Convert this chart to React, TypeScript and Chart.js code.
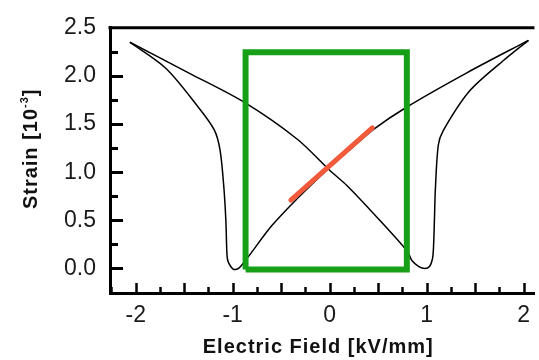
import React, { useEffect, useRef } from 'react';
import { Chart, registerables } from 'chart.js';

Chart.register(...registerables);

// Branch traced while the field rises from -2 to +2 kV/mm
const risingFieldX = [-2.06, -1.45, -0.87, -0.33, 0.0, 0.18, 0.49, 0.8, 0.85, 0.92, 0.98, 1.03, 1.06, 1.07, 1.08, 1.09, 1.12, 1.17, 1.44, 1.78, 2.05];
const risingStrainY = [2.35, 2.03, 1.72, 1.34, 1.02, 0.86, 0.53, 0.18, 0.08, 0.02, 0.0, 0.02, 0.1, 0.2, 0.49, 0.82, 1.28, 1.43, 1.84, 2.15, 2.37];

// Branch traced while the field falls from +2 to -2 kV/mm
const fallingFieldX = [2.05, 1.41, 0.8, 0.46, 0.18, 0.0, -0.33, -0.6, -0.87, -0.94, -0.99, -1.02, -1.05, -1.06, -1.07, -1.09, -1.13, -1.19, -1.35, -1.69, -2.06];
const fallingStrainY = [2.37, 2.03, 1.68, 1.45, 1.21, 1.05, 0.73, 0.44, 0.08, 0.0, -0.01, 0.02, 0.08, 0.17, 0.49, 0.83, 1.23, 1.44, 1.67, 2.08, 2.35];

// Highlight box (green) and linear fit segment (red)
const boxFieldX = [-0.867, 0.796, 0.796, -0.867, -0.867];
const boxStrainY = [-0.01, -0.01, 2.245, 2.245, -0.01];
const fitFieldX = [-0.4, 0.44];
const fitStrainY = [0.71, 1.46];

// Axes
const xTickValues = [-2, -1, 0, 1, 2];
const yTickValues = [0, 0.5, 1, 1.5, 2, 2.5];
const xMinorStep = 0.25;
const yMinorStep = 0.25;
const xLimits = [-2.265, 2.112];
const yLimits = [-0.255, 2.5];
const xTitle = 'Electric Field [kV/mm]';
const yTitleMain = 'Strain [10';
const yTitleSup = '-3';
const yTitleEnd = ']';

const FONT = '"Liberation Sans", Arial, Helvetica, sans-serif';

const pts = (xs: number[], ys: number[]) => xs.map((x, i) => ({ x, y: ys[i] }));

const framePlugin = {
  id: 'frameDecor',
  afterDraw(chart: any) {
    const { ctx, chartArea: a, scales } = chart;
    const xs = scales.x;
    const ys = scales.y;
    ctx.save();
    ctx.strokeStyle = '#000';
    ctx.lineCap = 'butt';
    // top frame line
    ctx.lineWidth = 3;
    ctx.beginPath();
    ctx.moveTo(a.left - 1.5, a.top);
    ctx.lineTo(a.right, a.top);
    ctx.stroke();
    // inward y ticks
    const yMaxStep = Math.round((yLimits[1] - yMinorStep) / yMinorStep);
    for (let i = 0; i <= yMaxStep; i++) {
      const v = i * yMinorStep;
      const major = i % 2 === 0;
      const py = Math.round(ys.getPixelForValue(v)) + 0.5;
      ctx.lineWidth = 3;
      ctx.beginPath();
      ctx.moveTo(a.left, py);
      ctx.lineTo(a.left + (major ? 13 : 8), py);
      ctx.stroke();
    }
    // inward x ticks
    const first = Math.ceil(xLimits[0] / xMinorStep);
    const last = Math.floor(xLimits[1] / xMinorStep);
    for (let i = first; i <= last; i++) {
      const v = i * xMinorStep;
      const major = Math.abs(i) % 2 === 0;
      const px = Math.round(xs.getPixelForValue(v)) + 0.5;
      ctx.lineWidth = 2.5;
      ctx.beginPath();
      ctx.moveTo(px, a.bottom);
      ctx.lineTo(px, a.bottom - (major ? 10 : 6));
      ctx.stroke();
    }
    // axis titles
    ctx.fillStyle = '#111';
    try {
      ctx.letterSpacing = '1px';
    } catch (e) {
      /* ignore */
    }
    ctx.font = `bold 20px ${FONT}`;
    ctx.textAlign = 'center';
    ctx.textBaseline = 'alphabetic';
    ctx.fillText(xTitle, (a.left + a.right) / 2 - 4, chart.height - 7);

    ctx.translate(37, a.top + 121);
    ctx.rotate(-Math.PI / 2);
    ctx.textAlign = 'left';
    ctx.font = `bold 20px ${FONT}`;
    const w1 = ctx.measureText(yTitleMain).width;
    const w3 = ctx.measureText(yTitleEnd).width;
    ctx.font = `bold 11px ${FONT}`;
    const w2 = ctx.measureText(yTitleSup).width;
    const start = -(w1 + w2 + w3) / 2;
    ctx.font = `bold 20px ${FONT}`;
    ctx.fillText(yTitleMain, start, 0);
    ctx.font = `bold 11px ${FONT}`;
    ctx.fillText(yTitleSup, start + w1, -9);
    ctx.font = `bold 20px ${FONT}`;
    ctx.fillText(yTitleEnd, start + w1 + w2, 0);
    ctx.restore();
  },
};

export default function App() {
  const canvasRef = useRef<HTMLCanvasElement | null>(null);

  useEffect(() => {
    const canvas = canvasRef.current;
    if (!canvas) return;
    const tickFont = { family: FONT, size: 23 };
    const chart = new Chart(canvas, {
      type: 'scatter',
      data: {
        datasets: [
          {
            data: pts(fitFieldX, fitStrainY),
            showLine: true,
            borderColor: '#f25a3c',
            borderWidth: 5,
            borderCapStyle: 'round',
            pointRadius: 0,
            order: 0,
          },
          {
            data: pts(boxFieldX, boxStrainY),
            showLine: true,
            borderColor: '#17a017',
            borderWidth: 6,
            borderJoinStyle: 'miter',
            pointRadius: 0,
            order: 1,
          },
          {
            data: pts(risingFieldX, risingStrainY),
            showLine: true,
            borderColor: '#000',
            borderWidth: 1.5,
            tension: 0.3,
            pointRadius: 0,
            order: 2,
          },
          {
            data: pts(fallingFieldX, fallingStrainY),
            showLine: true,
            borderColor: '#000',
            borderWidth: 1.5,
            tension: 0.3,
            pointRadius: 0,
            order: 3,
          },
        ],
      } as any,
      options: {
        animation: false,
        responsive: false,
        devicePixelRatio: 1,
        layout: { padding: { top: 22, right: 0, left: 0, bottom: 0 } },
        plugins: { legend: { display: false }, tooltip: { enabled: false } },
        scales: {
          x: {
            type: 'linear',
            min: xLimits[0],
            max: xLimits[1],
            afterFit: (s: any) => {
              s.height = 67;
            },
            afterBuildTicks: (s: any) => {
              s.ticks = xTickValues.map((v) => ({ value: v }));
            },
            grid: { display: false, drawTicks: false },
            border: { display: true, color: '#000', width: 3 },
            ticks: {
              padding: 9,
              color: '#1a1a1a',
              font: tickFont,
              maxRotation: 0,
              autoSkip: false,
              callback: (v: any) => String(v),
            },
          },
          y: {
            type: 'linear',
            min: yLimits[0],
            max: yLimits[1],
            afterFit: (s: any) => {
              s.width = 110;
            },
            afterBuildTicks: (s: any) => {
              s.ticks = yTickValues.map((v) => ({ value: v }));
            },
            grid: { display: false, drawTicks: false },
            border: { display: true, color: '#000', width: 3 },
            ticks: {
              padding: 14,
              color: '#1a1a1a',
              font: tickFont,
              autoSkip: false,
              callback: (v: any) => Number(v).toFixed(1),
            },
          },
        },
      } as any,
      plugins: [framePlugin],
    });
    return () => chart.destroy();
  }, []);

  return (
    <div style={{ position: 'fixed', left: 0, top: 0, width: 539, height: 360, background: '#fff' }}>
      <canvas ref={canvasRef} width={539} height={360} />
    </div>
  );
}
